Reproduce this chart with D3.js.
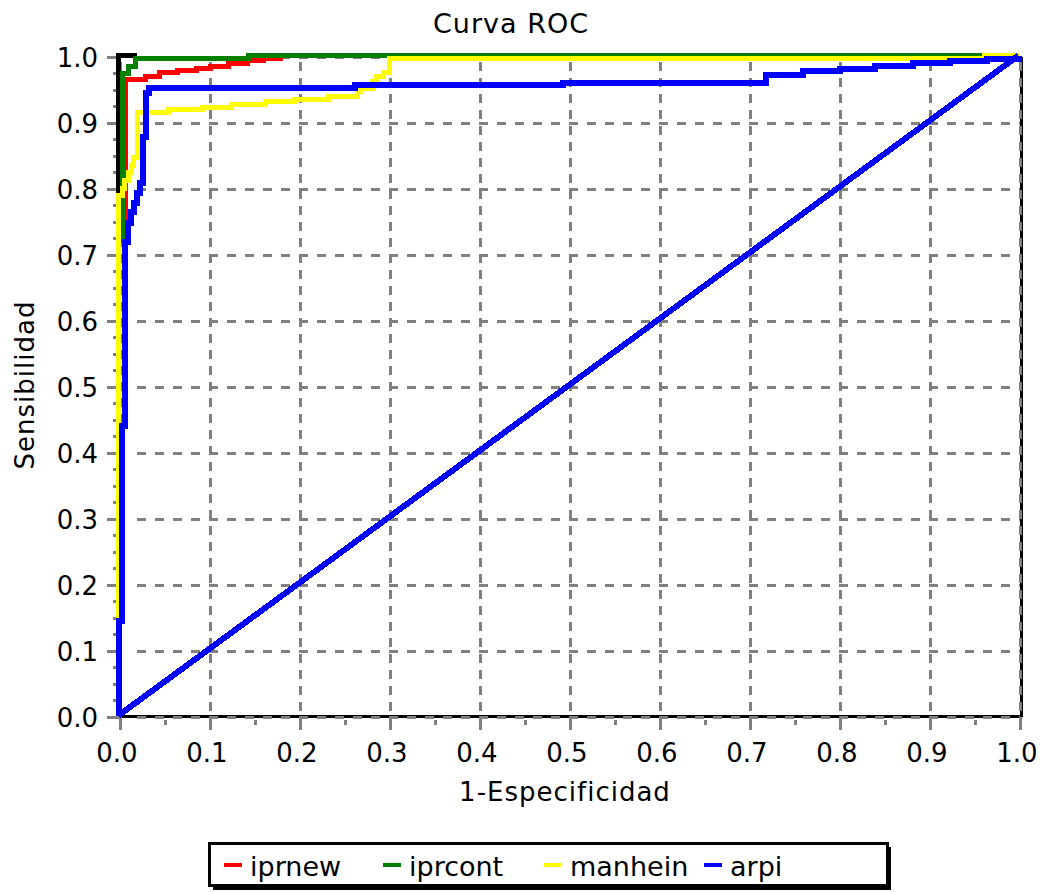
<!DOCTYPE html>
<html>
<head>
<meta charset="utf-8">
<script src="https://cdn.jsdelivr.net/npm/d3@7"></script>
<style>
  body { margin: 0; background: #fff; }
  svg { display: block; }
  text { font-family: "DejaVu Sans", sans-serif; fill: #000; }
</style>
</head>
<body>
<svg id="viz"></svg>
<script>
const width = 1044, height = 892;
const svg = d3.select("#viz").attr("width", width).attr("height", height);

// data (x = 1-especificidad, y = sensibilidad)
const ticks = [0, 0.1, 0.2, 0.3, 0.4, 0.5, 0.6, 0.7, 0.8, 0.9, 1.0];
const idealRef = [[0, 0], [0, 1], [0.02, 1]];
const iprnew = [[0, 0], [0, 0.72], [0.0078, 0.72], [0.0078, 0.963], [0.030, 0.963], [0.030, 0.968], [0.046, 0.968],
  [0.046, 0.974], [0.066, 0.974], [0.066, 0.977], [0.087, 0.977], [0.087, 0.98], [0.102, 0.98],
  [0.102, 0.984], [0.122, 0.984], [0.122, 0.988], [0.143, 0.988], [0.143, 0.992], [0.161, 0.992],
  [0.161, 0.995], [0.18, 0.995], [0.18, 1], [1, 1]];
const iprcont = [[0, 0], [0, 0.72], [0.0044, 0.72], [0.0044, 0.973], [0.011, 0.973], [0.011, 0.983], [0.019, 0.983],
  [0.019, 0.995], [0.144, 0.995], [0.144, 1], [1, 1]];
const manhein = [[0, 0], [0, 0.788], [0.0039, 0.788], [0.0039, 0.798], [0.0072, 0.798], [0.0072, 0.81],
  [0.0106, 0.81], [0.0106, 0.823], [0.0139, 0.823], [0.0139, 0.834], [0.0172, 0.834], [0.0172, 0.846],
  [0.0206, 0.846], [0.0206, 0.914], [0.055, 0.914], [0.055, 0.918], [0.093, 0.918], [0.093, 0.921],
  [0.126, 0.921], [0.126, 0.926], [0.163, 0.926], [0.163, 0.931], [0.196, 0.931], [0.196, 0.934],
  [0.233, 0.934], [0.233, 0.938], [0.265, 0.938], [0.265, 0.945], [0.269, 0.945], [0.269, 0.95],
  [0.282, 0.95], [0.282, 0.961], [0.287, 0.961], [0.287, 0.968], [0.294, 0.968], [0.294, 0.974],
  [0.301, 0.974], [0.301, 0.995], [0.962, 0.995], [0.962, 1], [1, 1]];
const arpi = [[0, 0], [0, 0.143], [0.0039, 0.143], [0.0039, 0.438], [0.0072, 0.438], [0.0072, 0.718],
  [0.0106, 0.718], [0.0106, 0.746], [0.0139, 0.746], [0.0139, 0.763], [0.0172, 0.763], [0.0172, 0.777],
  [0.0206, 0.777], [0.0206, 0.792], [0.0239, 0.792], [0.0239, 0.807], [0.0272, 0.807], [0.0272, 0.877],
  [0.0306, 0.877], [0.0306, 0.943], [0.0339, 0.943], [0.0339, 0.951], [0.263, 0.951], [0.263, 0.956],
  [0.494, 0.956], [0.494, 0.959], [0.719, 0.959], [0.719, 0.971], [0.761, 0.971], [0.761, 0.976],
  [0.802, 0.976], [0.802, 0.98], [0.841, 0.98], [0.841, 0.984], [0.883, 0.984], [0.883, 0.988],
  [0.924, 0.988], [0.924, 0.992], [0.965, 0.992], [0.965, 0.995], [1, 0.995], [1, 1]];
const chance = [[0, 0], [1, 1]];

const series = [
  { name: "iprnew", color: "#ff0000", values: iprnew, w: 5 },
  { name: "iprcont", color: "#008000", values: iprcont, w: 5 },
  { name: "manhein", color: "#ffff00", values: manhein, w: 5 },
  { name: "arpi", color: "#0000ff", values: arpi, w: 6 }
];

const x = d3.scaleLinear().domain([0, 1]).range([120, 1020]);
const y = d3.scaleLinear().domain([0, 1]).range([717, 57]);
const grey = "#808080";

// title
svg.append("text").attr("x", 511).attr("y", 33).attr("text-anchor", "middle")
  .style("font-size", "27px").style("letter-spacing", "1px").text("Curva ROC");

// black frame (bottom + right)
svg.append("line").attr("x1", x(0)).attr("x2", x(1) + 2).attr("y1", y(0) - 1).attr("y2", y(0) - 1)
  .attr("stroke", "#000").attr("stroke-width", 3).attr("shape-rendering", "crispEdges");
svg.append("line").attr("x1", x(1) + 1).attr("x2", x(1) + 1).attr("y1", y(1)).attr("y2", y(0))
  .attr("stroke", "#000").attr("stroke-width", 3).attr("shape-rendering", "crispEdges");

const grid = svg.append("g").attr("stroke", grey).attr("stroke-width", 3).attr("shape-rendering", "crispEdges");

// horizontal grid + y ticks
grid.selectAll(".hg").data(ticks).join("line")
  .attr("x1", 137).attr("x2", x(1)).attr("y1", d => y(d)).attr("y2", d => y(d))
  .attr("stroke-dasharray", "9,9");
grid.selectAll(".ht").data(ticks).join("line")
  .attr("x1", 107).attr("x2", 120).attr("y1", d => y(d)).attr("y2", d => y(d));
grid.selectAll(".hm").data(d3.range(0, 40).map(i => i * 0.025).filter(v => Math.round(v * 1000) % 100 !== 0)).join("line")
  .attr("x1", 113).attr("x2", 117).attr("y1", d => y(d)).attr("y2", d => y(d));

// vertical grid + x ticks
grid.selectAll(".vg").data(ticks).join("line")
  .attr("x1", d => x(d)).attr("x2", d => x(d)).attr("y1", 727).attr("y2", y(1))
  .attr("stroke-dasharray", "9,7");
grid.selectAll(".vt").data(ticks).join("line")
  .attr("x1", d => x(d)).attr("x2", d => x(d)).attr("y1", 717).attr("y2", 730);
grid.selectAll(".vm").data(d3.range(0, 10).map(i => i * 0.1 + 0.05)).join("line")
  .attr("x1", d => x(d)).attr("x2", d => x(d)).attr("y1", 720).attr("y2", 725);

// tick labels
svg.append("g").selectAll("text").data(ticks).join("text")
  .attr("x", 98).attr("y", d => y(d) + 9.5).attr("text-anchor", "end")
  .style("font-size", "26px").text(d => d.toFixed(1));
svg.append("g").selectAll("text").data(ticks).join("text")
  .attr("x", d => x(d) - 3).attr("y", 762).attr("text-anchor", "middle")
  .style("font-size", "26px").text(d => d.toFixed(1));

// axis titles
svg.append("text").attr("x", 565).attr("y", 801).attr("text-anchor", "middle")
  .style("font-size", "26px").style("letter-spacing", "1px").text("1-Especificidad");
svg.append("text").attr("transform", "translate(34,385) rotate(-90)").attr("text-anchor", "middle")
  .style("font-size", "26px").style("letter-spacing", "1px").text("Sensibilidad");

// curves (the old GDI pen sits ~1.5px up/left of the grid)
const line = d3.line().x(d => x(d[0])).y(d => y(d[1]));
const curves = svg.append("g").attr("transform", "translate(-1.5,-1.5)")
  .attr("fill", "none").attr("stroke-linejoin", "miter").attr("shape-rendering", "crispEdges");
curves.append("path").attr("d", line(idealRef)).attr("stroke", "#000").attr("stroke-width", 5);
series.forEach(s => {
  curves.append("path").attr("d", line(s.values)).attr("stroke", s.color).attr("stroke-width", s.w);
});
curves.append("path").attr("d", line(chance)).attr("stroke", "#0000ff").attr("stroke-width", 6);

// legend
const legend = svg.append("g");
legend.append("rect").attr("x", 213).attr("y", 847).attr("width", 678).attr("height", 43).attr("fill", "#000");
legend.append("rect").attr("x", 209.5).attr("y", 843.5).attr("width", 678).attr("height", 42)
  .attr("fill", "#fff").attr("stroke", "#000").attr("stroke-width", 3);
const legendX = [224, 383, 544, 704];
series.forEach((s, i) => {
  legend.append("rect").attr("x", legendX[i]).attr("y", 863).attr("width", 18).attr("height", 4).attr("fill", s.color);
  legend.append("text").attr("x", legendX[i] + 26).attr("y", 876)
    .style("font-size", "27px").text(s.name);
});
</script>
</body>
</html>
